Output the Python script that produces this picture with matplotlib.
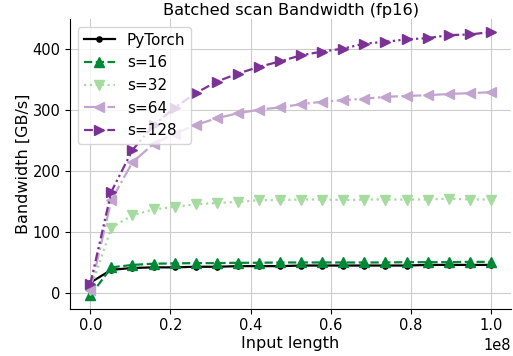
import matplotlib
matplotlib.use("Agg")
import matplotlib.pyplot as plt

# input lengths
input_length = [
    0, 5263158, 10526316, 15789474, 21052632, 26315789, 31578947,
    36842105, 42105263, 47368421, 52631579, 57894737, 63157895,
    68421053, 73684211, 78947368, 84210526, 89473684, 94736842, 100000000,
]

bw_pytorch = [17, 38, 41, 42, 42, 43, 43, 44, 44, 44,
              45, 45, 45, 45, 45, 45, 46, 46, 46, 46]
bw_s16 = [-4, 42, 46, 48, 48.5, 49, 49, 49.5, 49.5, 50,
          50, 50, 50, 50, 50, 50.5, 50.5, 50.5, 51, 51]
bw_s32 = [5, 107, 127, 137, 141, 145, 147.5, 149, 152, 152,
          153, 153, 152, 153, 153, 153, 153, 154.5, 153, 153]
bw_s64 = [5, 152, 214, 244, 261, 275, 286, 294, 300, 303.6,
          309, 313, 315.5, 318, 321, 322.5, 323.6, 325.7, 327, 328.5]
bw_s128 = [15, 166, 234, 275, 303, 327, 346, 359, 370, 379,
           389, 395, 400, 408, 411, 415, 417, 422, 423, 427]

labels = ["PyTorch", "s=16", "s=32", "s=64", "s=128"]

plt.rcParams["font.size"] = 10.5
plt.rcParams["lines.linewidth"] = 1.6

fig, ax = plt.subplots(figsize=(5.13, 3.56), dpi=100)
ms = 7.5
ax.plot(input_length, bw_pytorch, "-", marker=".", color="black", markersize=ms, label=labels[0])
ax.plot(input_length, bw_s16, "--", marker="^", color="#008837", markersize=ms, label=labels[1])
ax.plot(input_length, bw_s32, ":", marker="v", color="#a6dba0", markersize=ms, label=labels[2])
ax.plot(input_length, bw_s64, "-.", marker="<", color="#c2a5cf", markersize=ms, label=labels[3])
ax.plot(input_length, bw_s128, linestyle=(0, (4, 1.5, 1, 1.5, 1, 1.5)), marker=">",
        color="#7b3294", markersize=ms, label=labels[4])

ax.set_title("Batched scan Bandwidth (fp16)", fontsize=11.7, pad=3)
ax.set_xlabel("Input length", fontsize=11.5, labelpad=2)
ax.set_ylabel("Bandwidth [GB/s]", fontsize=11.5, labelpad=1)
ax.grid(color="#cccccc")
ax.set_axisbelow(True)
ax.spines["top"].set_visible(False)
ax.spines["right"].set_visible(False)
ax.legend(loc="upper left", fontsize=11, borderaxespad=0.5)

fig.subplots_adjust(left=0.137, right=0.996, top=0.947, bottom=0.133)
fig.savefig("out.png")
